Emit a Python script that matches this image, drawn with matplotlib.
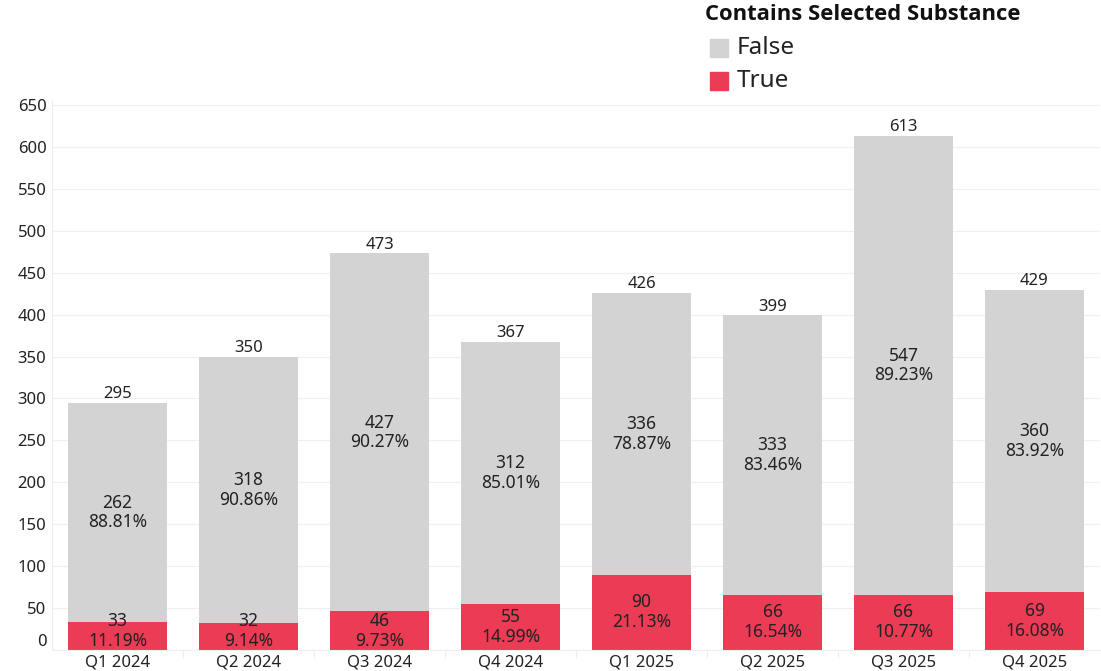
import matplotlib.pyplot as plt
from matplotlib.patches import Rectangle

# DATA
quarters = ["Q1 2024", "Q2 2024", "Q3 2024", "Q4 2024",
            "Q1 2025", "Q2 2025", "Q3 2025", "Q4 2025"]
false_counts = [262, 318, 427, 312, 336, 333, 547, 360]
true_counts = [33, 32, 46, 55, 90, 66, 66, 69]

gray = "#d3d3d3"
red = "#eb3b55"
txt = "#222222"

plt.rcParams["font.family"] = ["Noto Sans", "DejaVu Sans"]

fig = plt.figure(figsize=(11.01, 6.71), dpi=100)
ax = fig.add_axes([52 / 1101, 21 / 671, 1048 / 1101, 550 / 671])

x = list(range(len(quarters)))
totals = [f + t for f, t in zip(false_counts, true_counts)]

ax.bar(x, true_counts, width=0.75, color=red, zorder=2)
ax.bar(x, false_counts, bottom=true_counts, width=0.75, color=gray, zorder=2)

# LABELS
for i in x:
    f, t, tot = false_counts[i], true_counts[i], totals[i]
    ax.text(i, tot + 1, str(tot), ha="center", va="bottom", fontsize=12, color=txt)
    mid_f = t + f / 2
    ax.text(i, mid_f, f"{f}\n{f / tot * 100:.2f}%", ha="center", va="center",
            fontsize=12.5, color=txt, linespacing=1.12)
    mid_t = max(t / 2, 23)
    ax.text(i, mid_t, f"{t}\n{t / tot * 100:.2f}%", ha="center", va="center",
            fontsize=12.5, color=txt, linespacing=1.12)

ax.set_xlim(-0.5, len(quarters) - 0.5)
ax.set_ylim(0, 656)
ax.set_yticks(range(0, 651, 50))
ax.set_yticklabels([str(v) for v in range(0, 651, 50)], fontsize=12, color=txt)
ax.get_yticklabels()[0].set_va("bottom")
ax.set_xticks(x)
ax.set_xticklabels(quarters, fontsize=12, color=txt)
ax.tick_params(axis="y", length=0, pad=4)
ax.tick_params(axis="x", length=0, pad=3)

# faint category separators below the axis
ax.set_xticks([i - 0.5 for i in range(1, len(quarters))], minor=True)
ax.tick_params(axis="x", which="minor", length=6, width=0.8, color="#eeeeee", direction="out")

ax.grid(axis="y", color="#f0f0f0", linewidth=0.9, zorder=0)
for side in ["top", "right"]:
    ax.spines[side].set_visible(False)
ax.spines["left"].set_color("#eeeeee")
ax.spines["bottom"].set_color("#eeeeee")

# LEGEND
fig.text(705 / 1101, 1 - 15 / 671, "Contains Selected Substance", fontsize=15.8,
         fontweight="bold", family=["Open Sans", "DejaVu Sans"], color="#111111",
         va="center", ha="left")
for k, (lab, col) in enumerate([("False", gray), ("True", red)]):
    yc = 48 + k * 33
    fig.patches.append(Rectangle((710 / 1101, 1 - (yc + 9) / 671), 18 / 1101, 18 / 671,
                                 transform=fig.transFigure, color=col))
    fig.text(737 / 1101, 1 - yc / 671, lab, fontsize=17.5, color=txt, va="center", ha="left")

fig.savefig("out.png", dpi=100)
